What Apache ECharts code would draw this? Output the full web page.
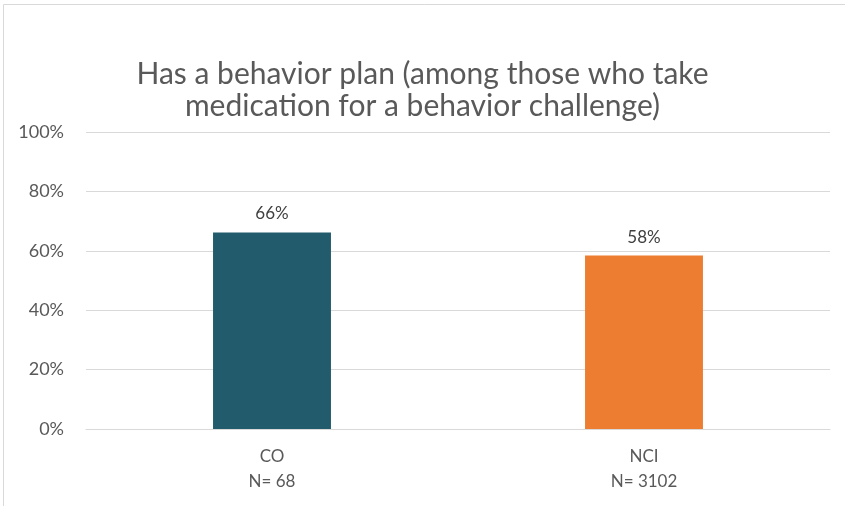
<!DOCTYPE html>
<html>
<head>
<meta charset="utf-8">
<script src="https://cdn.jsdelivr.net/npm/echarts@6/dist/echarts.min.js"></script>
<style>
html,body{margin:0;padding:0;background:#fff;}
#chart{width:845px;height:506px;}
</style>
</head>
<body>
<div id="chart"></div>
<script>
const categories = ['CO', 'NCI'];
const sampleSizes = ['N= 68', 'N= 3102'];
const values = [66.2, 58.4];
const barColors = ['#225B6C', '#ED7D31'];
const titleText = 'Has a behavior plan (among those who take\nmedication for a behavior challenge)';

const FONT = 'Lato, "Open Sans", sans-serif';
const chart = echarts.init(document.getElementById('chart'), null, {renderer: 'canvas'});
chart.setOption({
  animation: false,
  backgroundColor: '#fff',
  title: {
    text: titleText,
    left: 'center',
    top: 53,
    textStyle: {fontFamily: FONT, fontSize: 30, fontWeight: 'normal', color: '#595959', lineHeight: 32}
  },
  grid: {left: 86, right: 15, top: 132, bottom: 77, containLabel: false},
  xAxis: {
    type: 'category',
    data: categories.map((c, i) => c + '\n' + sampleSizes[i]),
    axisLine: {lineStyle: {color: '#D9D9D9', width: 1}},
    axisTick: {show: false},
    axisLabel: {fontFamily: FONT, fontSize: 17, color: '#595959', lineHeight: 25, margin: 15}
  },
  yAxis: {
    type: 'value',
    min: 0, max: 100, interval: 20,
    axisLine: {show: false},
    axisTick: {show: false},
    splitLine: {lineStyle: {color: '#D9D9D9', width: 1}},
    axisLabel: {fontFamily: FONT, fontSize: 18, color: '#595959', margin: 22, formatter: v => v + '%'}
  },
  series: [{
    type: 'bar',
    barWidth: '31.7%',
    data: values.map((v, i) => ({value: v, itemStyle: {color: barColors[i]}})),
    label: {
      show: true, position: 'top', distance: 10,
      fontFamily: FONT, fontSize: 17, color: '#404040',
      formatter: p => Math.round(p.value) + '%'
    }
  }],
  graphic: [
    {type: 'line', shape: {x1: 3.5, y1: 4.5, x2: 845, y2: 4.5}, style: {stroke: '#D9D9D9', lineWidth: 1}, silent: true},
    {type: 'line', shape: {x1: 3.5, y1: 4.5, x2: 3.5, y2: 506}, style: {stroke: '#D9D9D9', lineWidth: 1}, silent: true}
  ]
});
</script>
</body>
</html>
